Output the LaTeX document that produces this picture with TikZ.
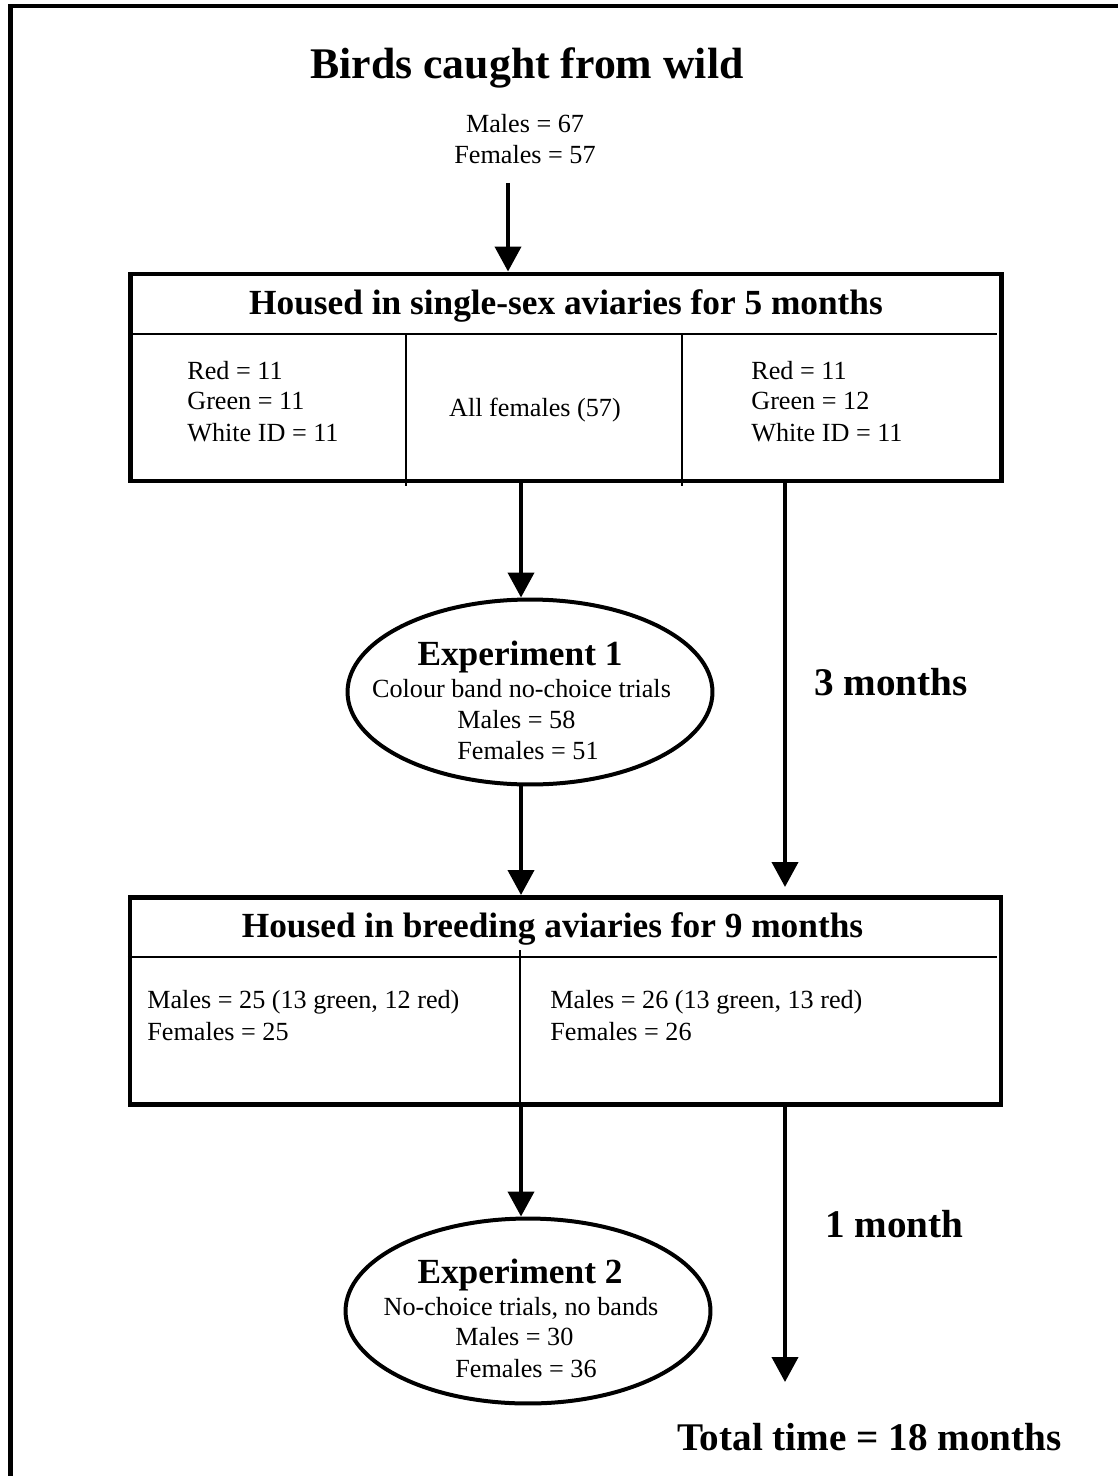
\documentclass[tikz,border=0pt]{standalone}
\usepackage{fontspec}
\setmainfont{Liberation Serif}
\usetikzlibrary{arrows.meta,shapes.geometric}

\tikzset{
  txt/.style={inner sep=0pt,font=\fontsize{14.9}{17.6}\selectfont},
  hdr/.style={inner sep=0pt,font=\bfseries\fontsize{20.1}{24}\selectfont},
  big/.style={inner sep=0pt,font=\bfseries\fontsize{22.3}{26}\selectfont},
  arr/.style={line width=0.08cm,-{Triangle[width=0.52cm,length=0.5cm]}},
  panel/.style={draw,line width=0.09cm,minimum width=17.42cm,minimum height=4.15cm,inner sep=0pt},
  trial/.style={draw,ellipse,line width=0.08cm,minimum width=7.3cm,minimum height=3.7cm,inner sep=0pt},
  sep/.style={line width=0.035cm}
}

\begin{document}
\begin{tikzpicture}[x=0.02cm,y=-0.02cm]
\useasboundingbox (0,0) rectangle (1117,1476);
\draw[line width=0.09cm] (10.5,6) rectangle (1121,1482);

% start
\node[inner sep=0pt,font=\bfseries\fontsize{24.9}{30}\selectfont,anchor=base] (wild) at (527,79) {Birds caught from wild};
\node[txt,anchor=base] (m0) at (525,133) {Males = 67};
\node[txt,anchor=base] (f0) at (525,164) {Females = 57};

% single-sex aviaries
\node[panel] (box1) at (566,377.5) {};
\draw[sep] (box1.west |- 0,334) -- (997,334);
\draw[sep] (406,334) -- (406,486);
\draw[sep] (682,334) -- (682,486);
\node[hdr,anchor=base] (h1) at (566,315) {Housed in single-sex aviaries for 5 months};
\foreach \t [count=\i] in {Red = 11,Green = 11,White ID = 11}
  \node[txt,anchor=base west] (ca\i) at (187,{379+31*(\i-1)}) {\t};
\node[txt,anchor=base] (cb) at (535,417) {All females (57)};
\foreach \t [count=\i] in {Red = 11,Green = 12,White ID = 11}
  \node[txt,anchor=base west] (cc\i) at (751,{379+31*(\i-1)}) {\t};

% experiment 1
\node[trial] (exp1) at (530,692) {};
\node[hdr,anchor=base] (e1a) at (520,665) {Experiment 1};
\node[txt,anchor=base] (e1b) at (521.5,697) {Colour band no-choice trials};
\node[txt,anchor=base west] (e1c) at (457,728) {Males = 58};
\node[txt,anchor=base west] (e1d) at (457,759) {Females = 51};

% breeding aviaries
\node[panel] (box2) at (565.5,1001) {};
\draw[sep] (box2.west |- 0,957) -- (997,957);
\draw[sep] (520,950) -- (520,1105);
\node[hdr,anchor=base] (h2) at (552.5,937) {Housed in breeding aviaries for 9 months};
\node[txt,anchor=base west] (d1) at (147,1008) {Males = 25 (13 green, 12 red)};
\node[txt,anchor=base west] (d2) at (147,1040) {Females = 25};
\node[txt,anchor=base west] (d3) at (550,1008) {Males = 26 (13 green, 13 red)};
\node[txt,anchor=base west] (d4) at (550,1040) {Females = 26};

% experiment 2
\node[trial] (exp2) at (528,1311) {};
\node[hdr,anchor=base] (e2a) at (520,1283) {Experiment 2};
\node[txt,anchor=base] (e2b) at (521,1315) {No-choice trials, no bands};
\node[txt,anchor=base west] (e2c) at (455,1345) {Males = 30};
\node[txt,anchor=base west] (e2d) at (455,1377) {Females = 36};

% time labels
\node[big,anchor=base west] (t3) at (814,695) {3 months};
\node[big,anchor=base west] (t1) at (825,1237) {1 month};
\node[big,anchor=base west] (tt) at (677,1450) {Total time = 18 months};

% arrows
\coordinate (a0) at (508,183);
\coordinate (cl) at (521,0);
\coordinate (cr) at (785,0);
\coordinate (r1) at (785,887);
\coordinate (r2) at (785,1382);
\draw[arr] (a0) -- (a0 |- box1.north);
\draw[arr] (box1.south -| cl) -- (cl |- exp1.north);
\draw[arr] (exp1.south -| cl) -- (cl |- box2.north);
\draw[arr] (box2.south -| cl) -- (cl |- exp2.north);
\draw[arr] (box1.south -| cr) -- (r1);
\draw[arr] (box2.south -| cr) -- (r2);
\end{tikzpicture}
\end{document}
